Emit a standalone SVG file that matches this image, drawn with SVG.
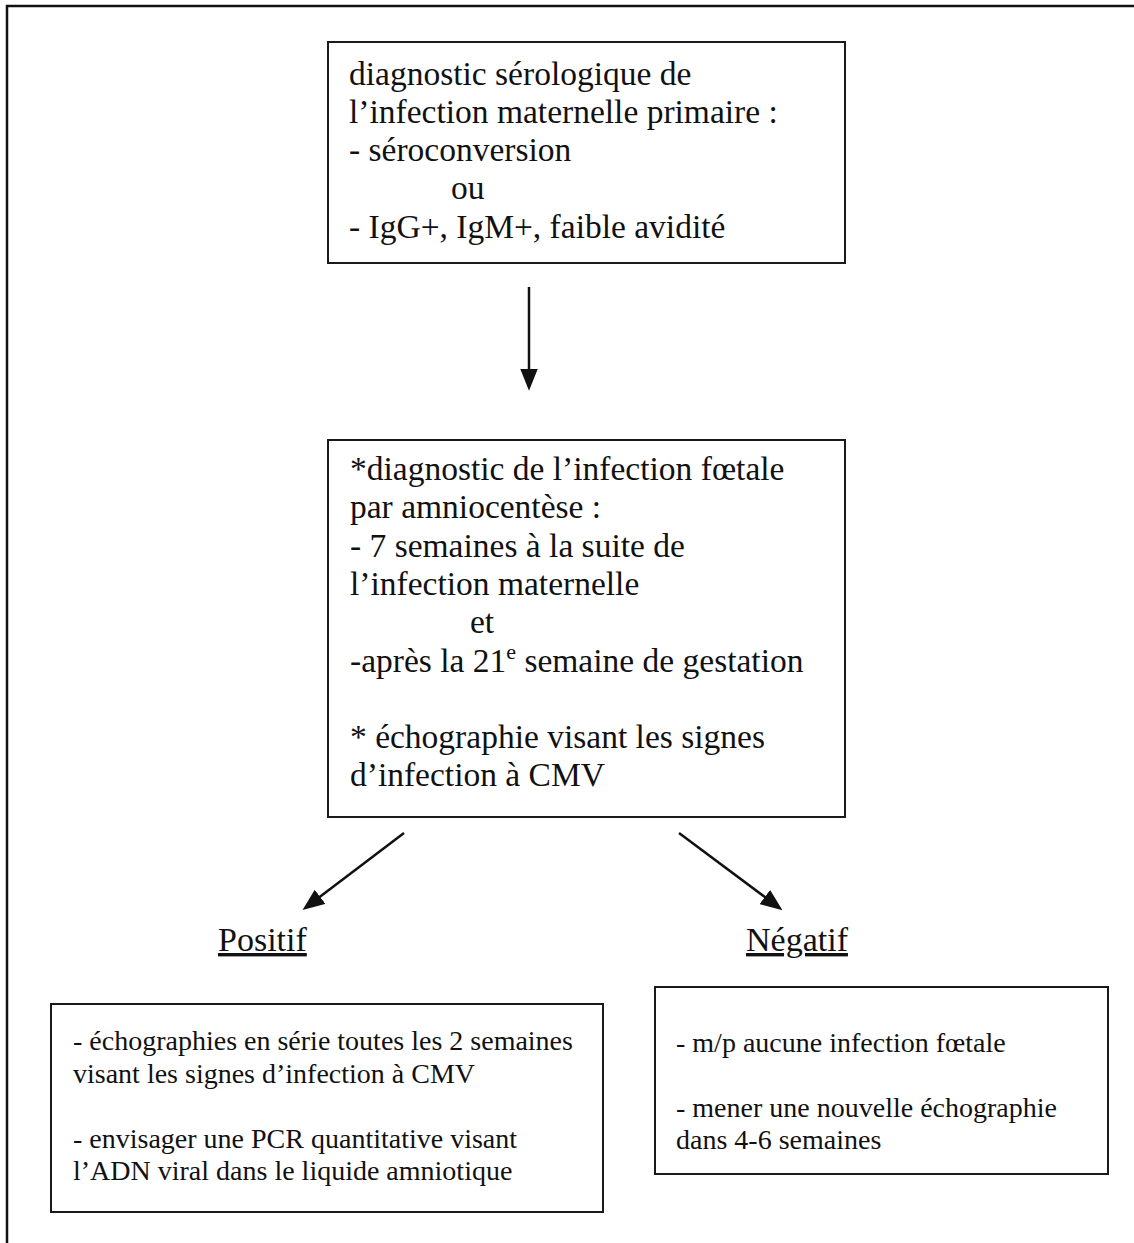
<svg xmlns="http://www.w3.org/2000/svg" width="1134" height="1243" viewBox="0 0 1134 1243">
<style>
.box{fill:#fff;stroke:#1a1a1a;stroke-width:2}
.t{font-family:"Liberation Serif","Times New Roman",serif;font-size:33.5px;fill:#111}
.s{font-family:"Liberation Serif","Times New Roman",serif;font-size:28px;fill:#111}
.lbl{font-family:"Liberation Serif","Times New Roman",serif;font-size:34px;fill:#111;text-decoration:underline}
.c{stroke:#111;stroke-width:2.5;fill:none}
</style>
<defs>
<marker id="ah" markerUnits="userSpaceOnUse" markerWidth="22" markerHeight="18" refX="2" refY="8" orient="auto" viewBox="0 0 20 16">
<path d="M0,0 L20,8 L0,16 z" fill="#111"/>
</marker>
</defs>
<rect width="1134" height="1243" fill="#fff"/>
<path d="M7,1243 V6 H1134" fill="none" stroke="#111" stroke-width="2.5"/>

<g id="n1">
<rect class="box" x="328" y="42" width="517" height="221"/>
<text class="t" x="349" y="84.5">diagnostic sérologique de</text>
<text class="t" x="349" y="122.8">l’infection maternelle primaire :</text>
<text class="t" x="349" y="161.1">- séroconversion</text>
<text class="t" x="451" y="199.4">ou</text>
<text class="t" x="349" y="237.7">- IgG+, IgM+, faible avidité</text>
</g>

<g id="n2">
<rect class="box" x="328" y="440" width="517" height="377"/>
<text class="t" x="350" y="480">*diagnostic de l’infection fœtale</text>
<text class="t" x="350" y="518.3">par amniocentèse :</text>
<text class="t" x="350" y="556.6">- 7 semaines à la suite de</text>
<text class="t" x="350" y="594.9">l’infection maternelle</text>
<text class="t" x="470" y="633.2">et</text>
<text class="t" x="350" y="671.5">-après la 21<tspan dy="-13" font-size="22">e</tspan><tspan dy="13"> semaine de gestation</tspan></text>
<text class="t" x="350" y="748.1">* échographie visant les signes</text>
<text class="t" x="350" y="786.4">d’infection à CMV</text>
</g>

<g id="lblPos"><text class="lbl" x="218" y="951">Positif</text></g>
<g id="lblNeg"><text class="lbl" x="746" y="951">Négatif</text></g>

<g id="n3">
<rect class="box" x="51" y="1004" width="552" height="208"/>
<text class="s" x="73" y="1050">- échographies en série toutes les 2 semaines</text>
<text class="s" x="73" y="1082.5">visant les signes d’infection à CMV</text>
<text class="s" x="73" y="1147.5">- envisager une PCR quantitative visant</text>
<text class="s" x="73" y="1180">l’ADN viral dans le liquide amniotique</text>
</g>

<g id="n4">
<rect class="box" x="655" y="987" width="453" height="187"/>
<text class="s" x="676" y="1051.5">- m/p aucune infection fœtale</text>
<text class="s" x="676" y="1116.5">- mener une nouvelle échographie</text>
<text class="s" x="676" y="1149">dans 4-6 semaines</text>
</g>

<g id="connectors">
<line class="c" x1="529" y1="287" x2="529" y2="371" marker-end="url(#ah)"/>
<line class="c" x1="404" y1="833" x2="318.3" y2="898.1" marker-end="url(#ah)"/>
<line class="c" x1="679" y1="833" x2="766.6" y2="898.3" marker-end="url(#ah)"/>
</g>
</svg>
